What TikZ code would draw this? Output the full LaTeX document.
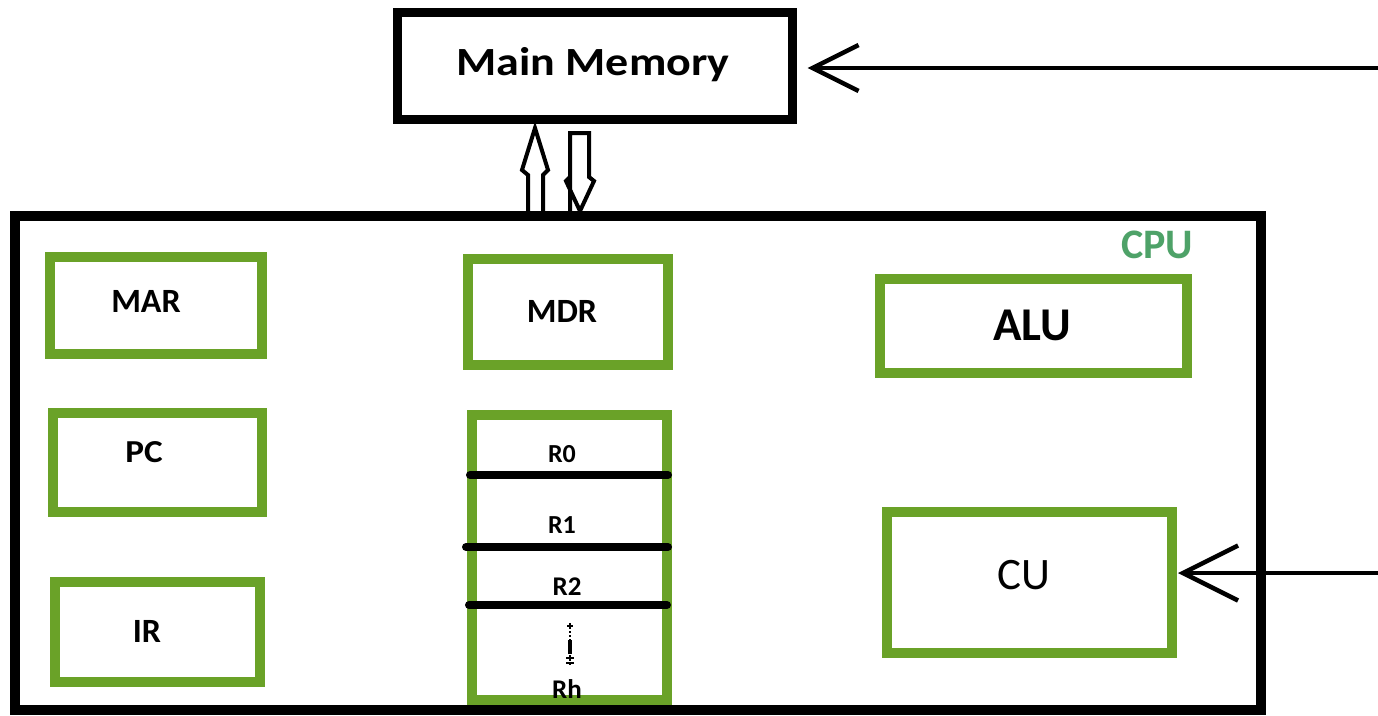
\documentclass[tikz,border=0pt]{standalone}
\usepackage{fontspec}
\setmainfont{Carlito}
\usetikzlibrary{arrows.meta}
\definecolor{regGreen}{RGB}{106,162,40}
\definecolor{cpuGreen}{RGB}{78,162,104}
\tikzset{
  blackbox/.style={draw=black, line width=#1, fill=white, inner sep=0pt},
  gbox/.style={draw=regGreen, line width=10pt, inner sep=0pt},
  lbl/.style={anchor=base, inner sep=0pt, font=\bfseries\fontsize{#1}{#1}\selectfont},
  sep/.style={draw=black, line width=8pt, line cap=round},
  feed/.style={draw=black, line width=4pt, line cap=round,
    -{Straight Barb[length=#1, width=#1, line width=4.5pt]}},
  hollow/.style={draw=black, line width=4pt, fill=white, line join=miter}
}
\begin{document}
\begin{tikzpicture}[x=1pt,y=-1pt]
  \useasboundingbox[fill=white] (0,0) rectangle (1378,715);

  % main memory
  \node[blackbox=9pt, minimum width=395pt, minimum height=107pt] (mm) at (594.5,65.5) {};
  \node[lbl=40, xscale=1.15] (mmt) at (593,75) {Main Memory};

  % data paths between memory and CPU
  \draw[hollow] (528,216) -- (528,175) -- (522,170) -- (535,128) -- (548,170) -- (543,175) -- (543,216) -- cycle;
  \draw[hollow] (570,216) -- (570,177) -- (566,181) -- (580,211) -- (594,181) -- (589,177) -- (589,133) -- (570,133) -- cycle;

  % CPU
  \node[blackbox=10pt, fill=none, minimum width=1246pt, minimum height=494pt] (cpu) at (638,463) {};
  \node[lbl=42, text=cpuGreen] (cput) at (1157,258) {CPU};

  % left column registers
  \node[gbox, minimum width=212pt, minimum height=97pt] (mar) at (156,305.5) {};
  \node[lbl=34] (mart) at (146,312) {MAR};
  \node[gbox, minimum width=209pt, minimum height=99pt] (pc) at (157.5,462.5) {};
  \node[lbl=32, xscale=1.1] (pct) at (144,462) {PC};
  \node[gbox, minimum width=205pt, minimum height=100pt] (ir) at (157.5,632) {};
  \node[lbl=34] (irt) at (147,642) {IR};

  % middle column
  \node[gbox, minimum width=200pt, minimum height=106pt] (mdr) at (568,312) {};
  \node[lbl=34] (mdrt) at (562,322) {MDR};
  \node[gbox, minimum width=195pt, minimum height=285pt] (regs) at (569.5,557.5) {};
  \node[lbl=26] (r0) at (562,462) {R0};
  \node[lbl=26] (r1) at (562,533) {R1};
  \node[lbl=27] (r2) at (567,595) {R2};
  \node[lbl=27] (rh) at (567,698) {Rh};
  \coordinate (s0a) at (470,475); \coordinate (s0b) at (668,475);
  \coordinate (s1a) at (466,547); \coordinate (s1b) at (668,547);
  \coordinate (s2a) at (469,605); \coordinate (s2b) at (667,605);
  \draw[sep] (s0a) -- (s0b);
  \draw[sep] (s1a) -- (s1b);
  \draw[sep] (s2a) -- (s2b);
  % vertical ellipsis between R2 and Rh
  \coordinate (da) at (570,623); \coordinate (db) at (570,666);
  \draw[line width=2pt, dotted] (da) -- (db);
  \draw[line width=4.5pt] (570,640) -- (570,654);
  \foreach \yy in {658,663} \draw[line width=1.5pt] (566,\yy) -- (574,\yy);
  \draw[line width=1.5pt] (567,626) -- (573,626);

  % right column
  \node[gbox, minimum width=307pt, minimum height=94pt] (alu) at (1033.5,326) {};
  \node[lbl=47] (alut) at (1032,340) {ALU};
  \node[gbox, minimum width=285pt, minimum height=141pt] (cu) at (1029.5,582.5) {};
  \node[anchor=base, inner sep=0pt, font=\fontsize{45}{45}\selectfont] (cut) at (1024,589) {CU};

  % incoming lines
  \coordinate (mmin) at (1380,68);
  \coordinate (cuin) at (1380,573);
  \draw[feed=46pt, shorten >=11pt] (mmin) -- (mmin -| mm.east);
  \draw[feed=55pt, shorten >=1pt] (cuin) -- (cuin -| cu.east);
\end{tikzpicture}
\end{document}
